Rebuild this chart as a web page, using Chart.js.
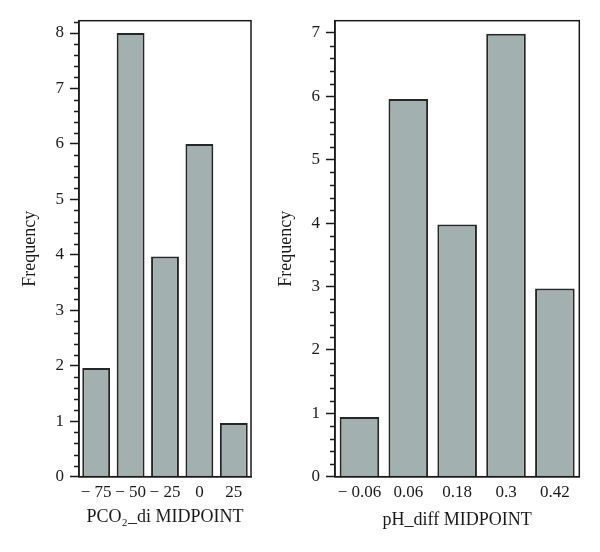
<!DOCTYPE html>
<html>
<head>
<meta charset="utf-8">
<script src="https://cdn.jsdelivr.net/npm/chart.js@4"></script>
<style>
  html, body { margin: 0; padding: 0; background: #fff; }
  #wrap { position: relative; width: 600px; height: 552px; }
  #leftBox { position: absolute; left: 0; top: 0; width: 265px; height: 552px; }
  #rightBox { position: absolute; left: 265px; top: 0; width: 335px; height: 552px; }
</style>
</head>
<body>
<div id="wrap">
  <div id="leftBox"><canvas id="leftChart" width="265" height="552"></canvas></div>
  <div id="rightBox"><canvas id="rightChart" width="335" height="552"></canvas></div>
</div>
<script>
const pco2Labels = ["\u2212 75", "\u2212 50", "\u2212 25", "0", "25"];
const pco2Freq = [1.96, 8, 3.97, 6, 0.97];
const phLabels = ["\u2212 0.06", "0.06", "0.18", "0.3", "0.42"];
const phFreq = [0.94, 5.96, 3.98, 6.99, 2.97];

const serif = "'Liberation Serif', 'DejaVu Serif', serif";
const ink = "#1a1a1a";

const isWhole = v => Math.abs(v - Math.round(v)) < 1e-6;
const isFifth = v => Math.abs(v * 5 - Math.round(v * 5)) < 1e-6;

const framePlugin = {
  id: "frame",
  afterDatasetsDraw(chart) {
    const { ctx, chartArea: a, scales: { y } } = chart;
    ctx.save();
    ctx.strokeStyle = ink;
    ctx.lineWidth = 1.5;
    ctx.strokeRect(a.left, a.top, a.right - a.left, a.bottom - a.top);
    // short minor ticks every 0.2
    y.ticks.forEach(t => {
      if (isWhole(t.value) || !isFifth(t.value)) return;
      const py = Math.round(y.getPixelForValue(t.value)) + 0.5;
      ctx.beginPath();
      ctx.moveTo(a.left - 5, py);
      ctx.lineTo(a.left, py);
      ctx.stroke();
    });
    ctx.restore();
  }
};

function histogram(id, labels, values, opts) {
  return new Chart(document.getElementById(id), {
    type: "bar",
    data: {
      labels: labels,
      datasets: [{
        data: values,
        backgroundColor: "#a2b1af",
        borderColor: "#262626",
        borderWidth: 2,
        barPercentage: 0.81,
        categoryPercentage: 1.0
      }]
    },
    options: {
      responsive: false,
      animation: false,
      layout: { padding: { top: 20.7, right: opts.padRight, left: 0, bottom: 0 } },
      plugins: { legend: { display: false }, tooltip: { enabled: false } },
      scales: {
        x: {
          grid: { display: false, drawTicks: false },
          border: { display: true, color: ink, width: 1.5 },
          ticks: { color: ink, font: { family: serif, size: 17 }, padding: 6, maxRotation: 0 },
          title: {
            display: true,
            text: opts.xTitle,
            color: ink,
            font: { family: serif, size: 18 },
            padding: { top: 0, bottom: opts.titlePadBottom }
          },
          afterFit: s => { s.height = 75.3; }
        },
        y: {
          min: 0,
          max: opts.yMax,
          grid: {
            drawOnChartArea: false,
            tickLength: 9,
            tickWidth: 1.5,
            tickColor: c => (c.tick && isWhole(c.tick.value)) ? ink : "rgba(0,0,0,0)"
          },
          border: { display: true, color: ink, width: 1.5 },
          ticks: {
            stepSize: 0.2,
            includeBounds: false,
            autoSkip: false,
            color: ink,
            padding: 6,
            font: { family: serif, size: 17 },
            callback: v => isWhole(v) ? String(Math.round(v)) : ""
          },
          title: {
            display: true,
            text: "Frequency",
            color: ink,
            font: { family: serif, size: 18 },
            padding: { top: opts.yTitlePad, bottom: 0 }
          },
          afterFit: s => { s.width = opts.yWidth; }
        }
      }
    },
    plugins: [framePlugin]
  });
}

histogram("leftChart", pco2Labels, pco2Freq, {
  xTitle: "PCO\u2082_di MIDPOINT",
  yMax: 8.222,
  yWidth: 79,
  yTitlePad: 19,
  padRight: 14,
  titlePadBottom: 24
});

histogram("rightChart", phLabels, phFreq, {
  xTitle: "pH_diff MIDPOINT",
  yMax: 7.194,
  yWidth: 70,
  yTitlePad: 10,
  padRight: 20.7,
  titlePadBottom: 21
});
</script>
</body>
</html>
